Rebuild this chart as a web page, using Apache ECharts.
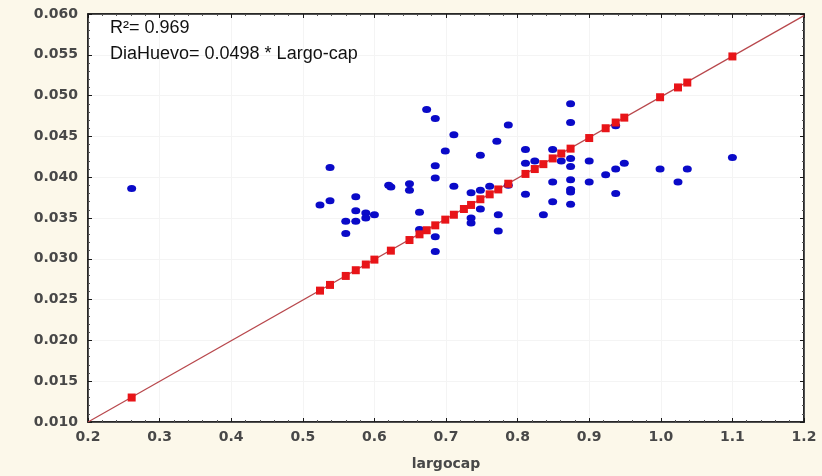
<!DOCTYPE html>
<html>
<head>
<meta charset="utf-8">
<script src="https://cdn.jsdelivr.net/npm/echarts@6/dist/echarts.min.js"></script>
<style>
  html, body { margin: 0; padding: 0; background: #fcf8ea; }
  #chart { width: 822px; height: 476px; }
</style>
</head>
<body>
<div id="chart"></div>
<script>
// observed points: largocap vs DiaHuevo
const obsX = [
  0.261, 0.538, 0.524, 0.538, 0.574, 0.574, 0.588, 0.600, 0.588, 0.560,
  0.574, 0.560, 0.623, 0.620, 0.649, 0.649, 0.663, 0.663, 0.673, 0.685,
  0.685, 0.685, 0.685, 0.685, 0.711, 0.699, 0.748, 0.771, 0.711, 0.735,
  0.748, 0.761, 0.748, 0.735, 0.735, 0.773, 0.773, 0.787, 0.787, 0.811,
  0.811, 0.824, 0.849, 0.861, 0.874, 0.874, 0.874, 0.874, 0.874, 0.874,
  0.874, 0.874, 0.900, 0.900, 0.849, 0.849, 0.836, 0.811, 0.937, 0.923,
  0.937, 0.949, 0.937, 0.999, 1.024, 1.037, 1.100
];
const obsY = [
  0.0386, 0.0412, 0.0366, 0.0371, 0.0376, 0.0359, 0.0356, 0.0354, 0.0350, 0.0346,
  0.0346, 0.0331, 0.0388, 0.0390, 0.0392, 0.0384, 0.0357, 0.0336, 0.0483, 0.0472,
  0.0414, 0.0399, 0.0327, 0.0309, 0.0452, 0.0432, 0.0427, 0.0444, 0.0389, 0.0381,
  0.0384, 0.0389, 0.0361, 0.0350, 0.0344, 0.0354, 0.0334, 0.0464, 0.0390, 0.0434,
  0.0417, 0.0420, 0.0434, 0.0420, 0.0490, 0.0467, 0.0423, 0.0413, 0.0397, 0.0385,
  0.0382, 0.0367, 0.0420, 0.0394, 0.0394, 0.0370, 0.0354, 0.0379, 0.0463, 0.0403,
  0.0410, 0.0417, 0.0380, 0.0410, 0.0394, 0.0410, 0.0424
];

// predicted values (red squares)
const predX = [
  0.261, 0.524, 0.538, 0.560, 0.574, 0.588, 0.600, 0.623, 0.649, 0.663,
  0.673, 0.685, 0.699, 0.711, 0.725, 0.735, 0.748, 0.761, 0.773, 0.787,
  0.811, 0.824, 0.836, 0.849, 0.861, 0.874, 0.900, 0.923, 0.937, 0.949,
  0.999, 1.024, 1.037, 1.100
];
const predY = [
  0.0130, 0.0261, 0.0268, 0.0279, 0.0286, 0.0293, 0.0299, 0.0310, 0.0323, 0.0330,
  0.0335, 0.0341, 0.0348, 0.0354, 0.0361, 0.0366, 0.0373, 0.0379, 0.0385, 0.0392,
  0.0404, 0.0410, 0.0416, 0.0423, 0.0429, 0.0435, 0.0448, 0.0460, 0.0467, 0.0473,
  0.0498, 0.0510, 0.0516, 0.0548
];

// fitted line endpoints
const fitX = [0.2, 1.2];
const fitY = [0.0100, 0.0598];

const labelR2 = 'R²= 0.969';
const labelEq = 'DiaHuevo= 0.0498 * Largo-cap';

const chart = echarts.init(document.getElementById('chart'));

const axisFont = {
  color: '#484848',
  fontSize: 14,
  fontWeight: 'bold',
  fontFamily: 'DejaVu Sans, Verdana, sans-serif'
};

const frameAxis = {
  lineStyle: { color: '#1a1a1a', width: 1.5 }
};

chart.setOption({
  backgroundColor: '#fcf8ea',
  animation: false,
  grid: {
    left: 88, right: 18, top: 14, bottom: 53,
    show: true,
    backgroundColor: '#ffffff',
    borderColor: '#1a1a1a',
    borderWidth: 1.5
  },
  xAxis: [
    {
      type: 'value',
      min: 0.2, max: 1.2, interval: 0.1,
      position: 'bottom',
      name: 'largocap',
      nameLocation: 'middle',
      nameGap: 35,
      nameTextStyle: { ...axisFont, fontSize: 14 },
      axisLine: frameAxis,
      axisTick: { inside: true, length: 4, lineStyle: { color: '#1a1a1a' } },
      minorTick: { show: true, splitNumber: 5, length: 2, lineStyle: { color: '#555' } },
      axisLabel: { ...axisFont, margin: 8, formatter: (v) => v.toFixed(1) },
      splitLine: { show: true, lineStyle: { color: '#f4f4f4', width: 1 } }
    },
    {
      type: 'value',
      min: 0.2, max: 1.2, interval: 0.1,
      position: 'top',
      axisLine: frameAxis,
      axisTick: { inside: true, length: 4, lineStyle: { color: '#1a1a1a' } },
      minorTick: { show: true, splitNumber: 5, length: 2, lineStyle: { color: '#555' } },
      axisLabel: { show: false },
      splitLine: { show: false }
    }
  ],
  yAxis: [
    {
      type: 'value',
      min: 0.01, max: 0.06, interval: 0.005,
      position: 'left',
      axisLine: frameAxis,
      axisTick: { inside: true, length: 4, lineStyle: { color: '#1a1a1a' } },
      minorTick: { show: true, splitNumber: 5, length: 2, lineStyle: { color: '#555' } },
      axisLabel: { ...axisFont, margin: 10, formatter: (v) => v.toFixed(3) },
      splitLine: { show: true, lineStyle: { color: '#f4f4f4', width: 1 } }
    },
    {
      type: 'value',
      min: 0.01, max: 0.06, interval: 0.005,
      position: 'right',
      axisLine: frameAxis,
      axisTick: { inside: true, length: 4, lineStyle: { color: '#1a1a1a' } },
      minorTick: { show: true, splitNumber: 5, length: 2, lineStyle: { color: '#555' } },
      axisLabel: { show: false },
      splitLine: { show: false }
    }
  ],
  graphic: [
    {
      type: 'text', left: 110, top: 19, z: 100,
      style: { text: labelR2, fill: '#111', fontSize: 18, fontFamily: 'Liberation Sans, Arial, sans-serif' }
    },
    {
      type: 'text', left: 110, top: 45, z: 100,
      style: { text: labelEq, fill: '#111', fontSize: 18, fontFamily: 'Liberation Sans, Arial, sans-serif' }
    }
  ],
  series: [
    {
      type: 'line',
      data: fitX.map((x, i) => [x, fitY[i]]),
      showSymbol: false,
      lineStyle: { color: '#b8474c', width: 1.2 },
      z: 2
    },
    {
      type: 'scatter',
      data: obsX.map((x, i) => [x, obsY[i]]),
      symbol: 'circle',
      symbolSize: [9, 7],
      itemStyle: { color: '#0a0ac8', opacity: 1 },
      z: 3
    },
    {
      type: 'scatter',
      data: predX.map((x, i) => [x, predY[i]]),
      symbol: 'rect',
      symbolSize: 8,
      itemStyle: { color: '#e81418', opacity: 1 },
      z: 4
    }
  ]
});
</script>
</body>
</html>
